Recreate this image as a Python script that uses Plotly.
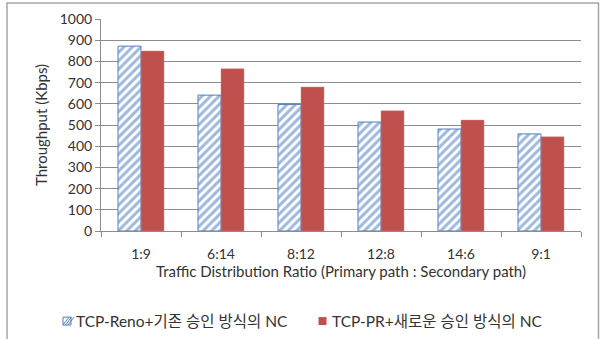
import plotly.graph_objects as go

categories = ["1:9", "6:14", "8:12", "12:8", "14:6", "9:1"]
reno_values = [872, 641, 597, 514, 481, 458]
pr_values = [849, 765, 679, 567, 523, 444]
series_names = ["TCP-Reno+기존 승인 방식의 NC", "TCP-PR+새로운 승인 방식의 NC"]
y_ticks = [0, 100, 200, 300, 400, 500, 600, 700, 800, 900, 1000]

FONT = "Lato, 'Noto Sans CJK KR', sans-serif"
BLUE = "#4F81BD"
RED = "#C0504D"
W, H = 608, 339
L, R, T, B = 101, 27, 18.5, 107.5
pw, ph = W - L - R, H - T - B

def px_to_x(px):
    return (px - L) / pw

def px_to_y(py):
    return (H - B - py) / ph

fig = go.Figure()
fig.add_trace(go.Bar(
    x=categories, y=reno_values, name=series_names[0],
    marker=dict(color="white", line=dict(color=BLUE, width=1),
                pattern=dict(shape="/", fgcolor="#3F72B5", bgcolor="white",
                             size=6, solidity=0.5)),
))
fig.add_trace(go.Bar(
    x=categories, y=pr_values, name=series_names[1],
    marker=dict(color=RED, line=dict(color="#D9837F", width=0.5)),
))

# custom legend (small squares + text)
shapes = [dict(type="rect", xref="paper", yref="paper",
               x0=px_to_x(7), x1=px_to_x(598.5), y0=px_to_y(345), y1=px_to_y(2.5),
               line=dict(color="#A6A6A6", width=1.5), fillcolor="rgba(0,0,0,0)", layer="below")]
ly = 322
bx0, bx1 = 63, 71
shapes.append(dict(type="rect", xref="paper", yref="paper",
                   x0=px_to_x(bx0), x1=px_to_x(bx1), y0=px_to_y(ly + 4), y1=px_to_y(ly - 4),
                   line=dict(color=BLUE, width=1), fillcolor="white"))
for k in range(3):
    a = bx0 + 2 + k * 2.5
    shapes.append(dict(type="line", xref="paper", yref="paper",
                       x0=px_to_x(a - 2), y0=px_to_y(ly + 4), x1=px_to_x(a + 4), y1=px_to_y(ly - 4),
                       line=dict(color=BLUE, width=1)))
shapes.append(dict(type="rect", xref="paper", yref="paper",
                   x0=px_to_x(318.5), x1=px_to_x(326.5), y0=px_to_y(ly + 4), y1=px_to_y(ly - 4),
                   line=dict(color=RED, width=0), fillcolor=RED))

annotations = [
    dict(text=series_names[0], xref="paper", yref="paper", x=px_to_x(74), y=px_to_y(ly),
         xanchor="left", yanchor="middle", showarrow=False,
         font=dict(family=FONT, size=15.5, color="#333333")),
    dict(text=series_names[1], xref="paper", yref="paper", x=px_to_x(330), y=px_to_y(ly),
         xanchor="left", yanchor="middle", showarrow=False,
         font=dict(family=FONT, size=15.5, color="#333333")),
]

fig.update_layout(
    width=W, height=H,
    margin=dict(l=L, r=R, t=T, b=B, pad=0, autoexpand=False),
    paper_bgcolor="white", plot_bgcolor="white",
    barmode="group", bargap=0.425, bargroupgap=0,
    font=dict(family=FONT, color="#333333", size=14),
    showlegend=False,
    xaxis=dict(
        automargin=False,
        showline=True, linecolor="#8C8C8C", linewidth=1,
        ticks="outside", tickson="boundaries", ticklen=5, tickcolor="#8C8C8C",
        ticklabelstandoff=10,
        tickfont=dict(family=FONT, size=14, color="#333333"),
        title=dict(text="Traffic Distribution Ratio (Primary path : Secondary path)",
                   font=dict(family=FONT, size=15, color="#333333"), standoff=2),
        showgrid=False,
    ),
    yaxis=dict(
        automargin=False,
        range=[0, 1000], tickvals=y_ticks,
        showline=True, linecolor="#8C8C8C", linewidth=1,
        ticks="outside", ticklen=5, tickcolor="#8C8C8C",
        showgrid=True, gridcolor="#8C8C8C", gridwidth=1,
        tickfont=dict(family=FONT, size=14, color="#333333"),
        title=dict(text="Throughput (Kbps)", font=dict(family=FONT, size=15, color="#333333"),
                   standoff=8),
        zeroline=False,
    ),
    shapes=shapes,
    annotations=annotations,
)

fig.write_html("out.html")
